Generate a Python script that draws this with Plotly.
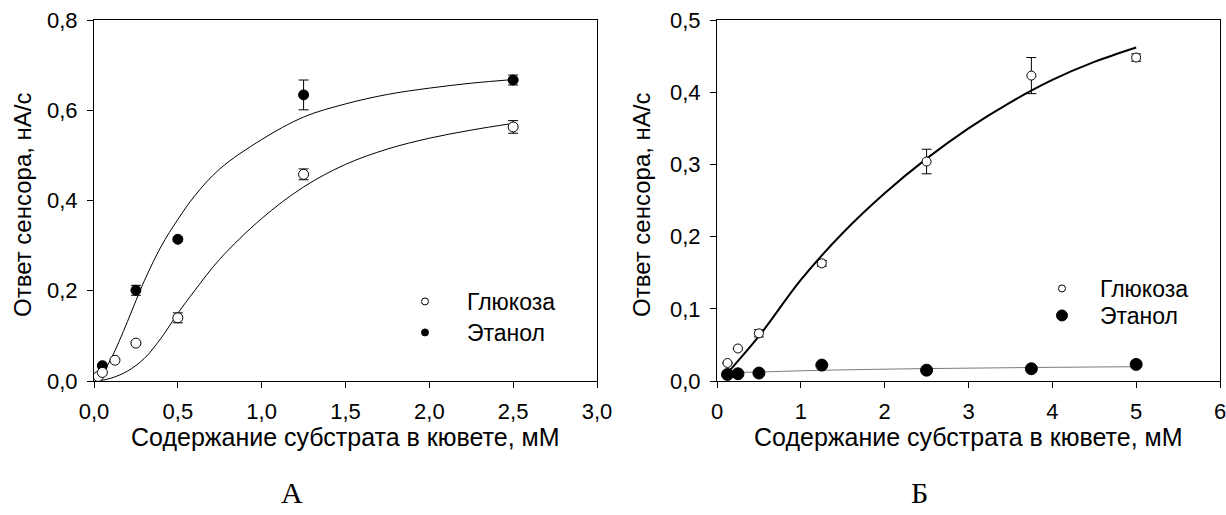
import plotly.graph_objects as go

# ---- Panel A: sensor response vs substrate concentration ----
glu_a_x = [0.025, 0.05, 0.125, 0.25, 0.5, 1.25, 2.5]
glu_a_y = [0.010, 0.019, 0.046, 0.084, 0.140, 0.458, 0.563]
glu_a_err = [None, None, None, None, 0.011, 0.012, 0.014]

eth_a_x = [0.05, 0.25, 0.5, 1.25, 2.5]
eth_a_y = [0.034, 0.201, 0.314, 0.634, 0.667]
eth_a_err = [None, 0.011, 0.005, 0.033, 0.011]

fit_glu_a_x = [0.02, 0.1, 0.2, 0.3, 0.4, 0.5, 0.6, 0.75, 1.0, 1.25, 1.5, 1.75, 2.0, 2.25, 2.5]
fit_glu_a_y = [0.0, 0.006, 0.022, 0.05, 0.095, 0.15, 0.2, 0.27, 0.36, 0.43, 0.48, 0.514, 0.538, 0.556, 0.571]

fit_eth_a_x = [0.02, 0.05, 0.1, 0.15, 0.2, 0.25, 0.3, 0.4, 0.5, 0.6, 0.75, 1.0, 1.25, 1.5, 1.75, 2.0, 2.25, 2.5]
fit_eth_a_y = [0.004, 0.017, 0.048, 0.088, 0.132, 0.178, 0.222, 0.298, 0.358, 0.41, 0.47, 0.535, 0.585, 0.614, 0.635, 0.649, 0.66, 0.668]

# ---- Panel B ----
glu_b_x = [0.125, 0.25, 0.5, 1.25, 2.5, 3.75, 5.0]
glu_b_y = [0.025, 0.045, 0.066, 0.163, 0.304, 0.423, 0.448]
glu_b_err = [None, None, 0.005, 0.004, 0.017, 0.025, 0.005]

eth_b_x = [0.125, 0.25, 0.5, 1.25, 2.5, 3.75, 5.0]
eth_b_y = [0.009, 0.010, 0.011, 0.022, 0.015, 0.017, 0.023]

fit_glu_b_x = [0.14, 0.5, 1.0, 1.5, 2.0, 2.5, 3.0, 3.5, 4.0, 4.5, 5.0]
fit_glu_b_y = [0.013, 0.062, 0.14, 0.205, 0.26, 0.308, 0.35, 0.386, 0.417, 0.442, 0.462]

fit_eth_b_x = [0.125, 0.5, 1.25, 2.5, 3.75, 5.0]
fit_eth_b_y = [0.0115, 0.0125, 0.0148, 0.0172, 0.0187, 0.0198]

# ---- Text ----
series_names = ["Глюкоза", "Этанол"]
y_title = "Ответ сенсора, нА/с"
x_title = "Содержание субстрата в кювете, мМ"
panel_labels = ["А", "Б"]

SANS = "Liberation Sans, Arial, sans-serif"
SERIF = "Liberation Serif, Times New Roman, serif"
TICK_FS = 22
XTITLE_FS = 25
YTITLE_FS = 24
LEG_FS = 23

W, H = 1226, 515


def px(x):
    return x / W


def py(y):
    return 1 - y / H


fig = go.Figure()


def err(arr):
    return dict(type="data", array=arr, visible=True, color="black", thickness=1, width=5)


open_marker = dict(symbol="circle", color="white", line=dict(color="black", width=1))
solid_marker = dict(symbol="circle", color="black", line=dict(color="black", width=1))

# Panel A curves
fig.add_trace(go.Scatter(x=fit_eth_a_x, y=fit_eth_a_y, mode="lines", line=dict(color="black", width=1, shape="spline"),
                         showlegend=False, xaxis="x", yaxis="y", hoverinfo="skip"))
fig.add_trace(go.Scatter(x=fit_glu_a_x, y=fit_glu_a_y, mode="lines", line=dict(color="black", width=1, shape="spline"),
                         showlegend=False, xaxis="x", yaxis="y", hoverinfo="skip"))
# Panel A points
fig.add_trace(go.Scatter(x=eth_a_x, y=eth_a_y, mode="markers", marker=dict(size=10, **solid_marker),
                         error_y=err(eth_a_err), showlegend=False, xaxis="x", yaxis="y"))
fig.add_trace(go.Scatter(x=glu_a_x, y=glu_a_y, mode="markers", marker=dict(size=10, **open_marker),
                         error_y=err(glu_a_err), showlegend=False, xaxis="x", yaxis="y"))

# Panel B curves
fig.add_trace(go.Scatter(x=fit_eth_b_x, y=fit_eth_b_y, mode="lines", line=dict(color="#7a7a7a", width=1, shape="spline"),
                         showlegend=False, xaxis="x2", yaxis="y2", hoverinfo="skip"))
fig.add_trace(go.Scatter(x=fit_glu_b_x, y=fit_glu_b_y, mode="lines", line=dict(color="black", width=2, shape="spline"),
                         showlegend=False, xaxis="x2", yaxis="y2", hoverinfo="skip"))
# Panel B points
fig.add_trace(go.Scatter(x=eth_b_x, y=eth_b_y, mode="markers", marker=dict(size=12, **solid_marker),
                         showlegend=False, xaxis="x2", yaxis="y2"))
fig.add_trace(go.Scatter(x=glu_b_x, y=glu_b_y, mode="markers", marker=dict(size=9, **open_marker),
                         error_y=err(glu_b_err), showlegend=False, xaxis="x2", yaxis="y2"))

# Legend entries: one legend per entry so each row can be placed exactly
legend_items = [
    ("legend", series_names[0], 7, open_marker, "x", "y"),
    ("legend2", series_names[1], 7, solid_marker, "x", "y"),
    ("legend3", series_names[0], 7, open_marker, "x2", "y2"),
    ("legend4", series_names[1], 11, solid_marker, "x2", "y2"),
]
for lg, name, size, mk, xa, ya in legend_items:
    fig.add_trace(go.Scatter(x=[None], y=[None], mode="markers", name=name,
                             marker=dict(size=size, **mk), legend=lg, xaxis=xa, yaxis=ya))

axis_common = dict(
    showline=True, linecolor="black", linewidth=1, mirror=True,
    ticks="outside", ticklen=6, tickwidth=1, tickcolor="black",
    showgrid=False, zeroline=False, automargin=False,
    tickfont=dict(family=SANS, size=TICK_FS, color="black"),
    ticklabelstandoff=5, ticklabeloverflow="allow",
)


def legend_at(marker_x, row_y, itemwidth):
    # symbol centre sits (itemwidth + 10) / 2 px right of the legend's left edge
    return dict(x=px(marker_x - (itemwidth + 10) / 2), y=py(row_y - 18), xanchor="left", yanchor="top",
                itemwidth=itemwidth, font=dict(family=SANS, size=LEG_FS, color="black"),
                bgcolor="rgba(0,0,0,0)", borderwidth=0)


Y0, Y1 = 20, 381
fig.update_layout(
    width=W, height=H,
    margin=dict(l=0, r=0, t=0, b=0, pad=0, autoexpand=False),
    paper_bgcolor="white", plot_bgcolor="white",
    separators=", ",
    xaxis=dict(domain=[px(94), px(597)], range=[0, 3], tick0=0, dtick=0.5, tickformat=".1f",
               anchor="y", **axis_common),
    yaxis=dict(domain=[py(Y1), py(Y0)], range=[0, 0.8], tick0=0, dtick=0.2, tickformat=".1f",
               anchor="x", **axis_common),
    xaxis2=dict(domain=[px(717), px(1220)], range=[0, 6], tick0=0, dtick=1, tickformat="d",
                anchor="y2", **axis_common),
    yaxis2=dict(domain=[py(Y1), py(Y0)], range=[0, 0.5], tick0=0, dtick=0.1, tickformat=".1f",
                anchor="x2", **axis_common),
    legend=legend_at(425, 298, 74),
    legend2=legend_at(425, 329, 74),
    legend3=legend_at(1062, 285, 66),
    legend4=legend_at(1062, 312, 66),
    showlegend=True,
)

annotations = [
    dict(text=y_title, x=px(22), y=py(205), textangle=-90, size=YTITLE_FS),
    dict(text=y_title, x=px(641), y=py(205), textangle=-90, size=YTITLE_FS),
    dict(text=x_title, x=px(345.5), y=py(437), size=XTITLE_FS),
    dict(text=x_title, x=px(968.5), y=py(437), size=XTITLE_FS),
]
for a in annotations:
    fs = a.pop("size")
    a.update(xref="paper", yref="paper", showarrow=False, xanchor="center", yanchor="middle",
             font=dict(family=SANS, size=fs, color="black"))
    fig.add_annotation(**a)

for lbl, xc in zip(panel_labels, [292, 919]):
    fig.add_annotation(text=lbl, x=px(xc), y=py(492), xref="paper", yref="paper", showarrow=False,
                       xanchor="center", yanchor="middle",
                       font=dict(family=SERIF, size=30, color="black"))

fig.write_html("out.html")
